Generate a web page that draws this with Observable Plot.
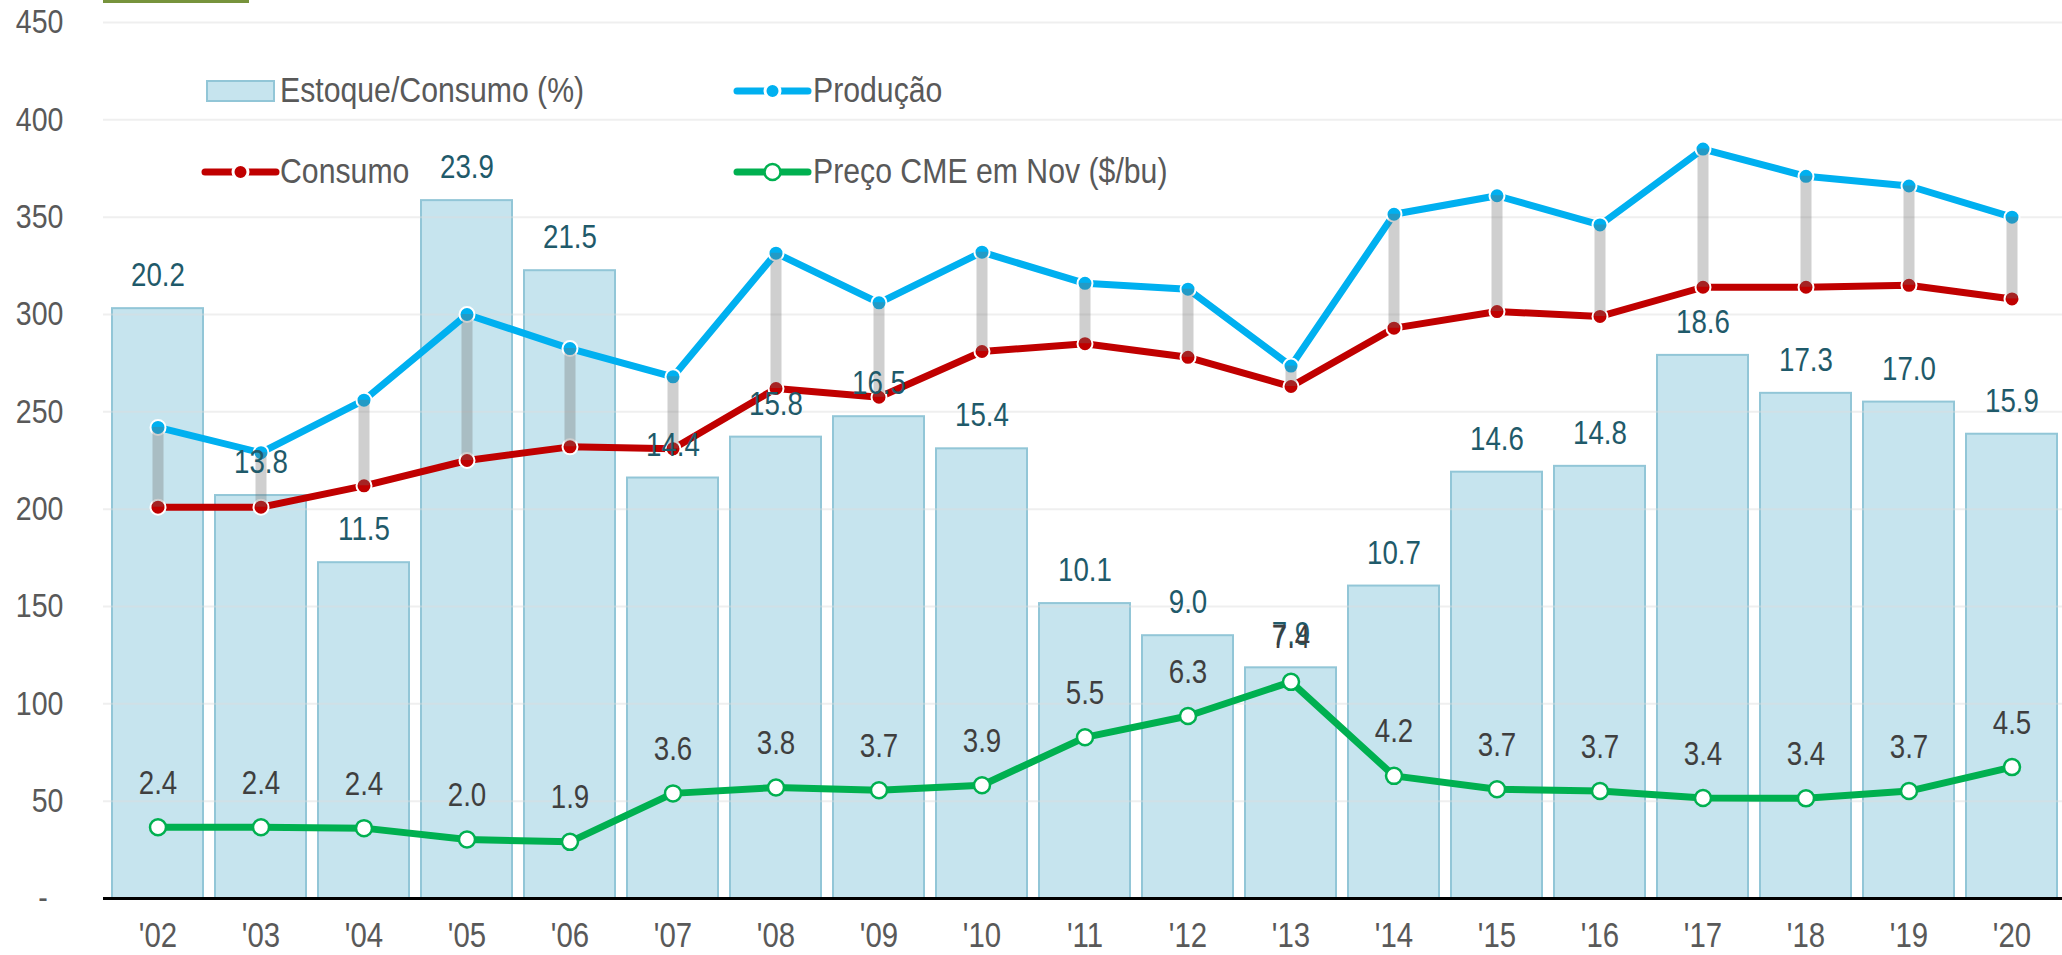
<!DOCTYPE html>
<html><head><meta charset="utf-8">
<script src="https://cdn.jsdelivr.net/npm/d3@7"></script>
<script src="https://cdn.jsdelivr.net/npm/@observablehq/plot@0.6"></script>
<style>
html,body{margin:0;padding:0;background:#fff;overflow:hidden}
#chart svg{display:block;overflow:hidden}
</style></head><body><div id="chart"></div>
<script>
// ---- data ----
const years = ["'02","'03","'04","'05","'06","'07","'08","'09","'10","'11","'12","'13","'14","'15","'16","'17","'18","'19","'20"];
const producao = [242, 229, 256, 300, 282.5, 268, 331.5, 306, 332, 316, 313, 273.5, 351.5, 361, 346, 385, 371, 366, 350];
const consumo  = [201, 201, 212, 225, 232, 231, 262, 257.5, 281, 285, 278, 263, 293, 301.5, 299, 314, 314, 315, 308];
const estoqueConsumo = [20.2, 13.8, 11.5, 23.9, 21.5, 14.4, 15.8, 16.5, 15.4, 10.1, 9.0, 7.9, 10.7, 14.6, 14.8, 18.6, 17.3, 17.0, 15.9];
const precoNov = [2.44, 2.44, 2.41, 2.02, 1.94, 3.60, 3.80, 3.71, 3.88, 5.52, 6.25, 7.42, 4.20, 3.74, 3.68, 3.44, 3.43, 3.68, 4.50];
const yTicks = [0, 50, 100, 150, 200, 250, 300, 350, 400, 450];
const legendLabels = ["Estoque/Consumo (%)", "Produção", "Consumo", "Preço CME em Nov ($/bu)"];
// the % ratio and the $/bu price share the left axis at a factor of 15
const secondaryFactor = 15;

const rows = years.map((year, i) => ({
  year, prod: producao[i], cons: consumo[i],
  ratio: estoqueConsumo[i], price: precoNov[i]
}));

const FONT = "'Liberation Sans',Arial,sans-serif";
const SQUEEZE = 0.84; // the reference uses a narrow face
const BLUE = "#00b0f0", RED = "#c00000", GREEN = "#00b050";
const BAR_FILL = "#c6e4ee", BAR_STROKE = "#92c6d7";

const chart = Plot.plot({
  width: 2062,
  height: 955,
  marginLeft: 103,
  marginRight: 0,
  marginTop: 22,
  marginBottom: 57,
  style: {fontFamily: FONT, fontSize: "34px", background: "#fff", color: "#595959"},
  x: {type: "band", domain: years, range: [103, 2066], paddingInner: 0.12, paddingOuter: 0.06, label: null},
  y: {domain: [0, 450], label: null},
  marks: [
    Plot.barY(rows, {x: "year", y: d => d.ratio * secondaryFactor, fill: BAR_FILL, stroke: BAR_STROKE, strokeWidth: 2}),
    Plot.gridY(yTicks.filter(d => d > 0), {stroke: "#dcdcdc", strokeOpacity: 0.45, strokeWidth: 2}),
    Plot.axisY({ticks: yTicks, tickSize: 0, tickPadding: 40, fontSize: 34, fill: "#595959",
      tickFormat: d => d === 0 ? "-\u00a0\u00a0" : String(d)}),
    Plot.axisX({tickSize: 0, tickPadding: 24, fontSize: 35, fill: "#595959"}),
    Plot.ruleY([0], {stroke: "#000", strokeWidth: 3}),
    // Produção & Consumo
    Plot.lineY(rows, {x: "year", y: "prod", stroke: BLUE, strokeWidth: 7}),
    Plot.lineY(rows, {x: "year", y: "cons", stroke: RED, strokeWidth: 7}),
    Plot.dot(rows, {x: "year", y: "prod", r: 7.5, fill: BLUE, stroke: "#fff", strokeWidth: 2}),
    Plot.dot(rows, {x: "year", y: "cons", r: 7.5, fill: RED, stroke: "#fff", strokeWidth: 2}),
    Plot.ruleX(rows, {x: "year", y1: "prod", y2: "cons", stroke: "#6e6e6e", strokeOpacity: 0.33, strokeWidth: 11}),
    // Preço
    Plot.lineY(rows, {x: "year", y: d => d.price * secondaryFactor, stroke: GREEN, strokeWidth: 7}),
    Plot.dot(rows, {x: "year", y: d => d.price * secondaryFactor, r: 8, fill: "#fff", stroke: GREEN, strokeWidth: 2.5}),
    // labels
    Plot.text(rows, {x: "year", y: d => d.ratio * secondaryFactor, text: d => d.ratio.toFixed(1), dy: -33,
      fontSize: 33, fill: "#1f5a6a"}),
    Plot.text(rows, {x: "year", y: d => d.price * secondaryFactor, text: d => d.price.toFixed(1), dy: -44,
      fontSize: 33, fill: "#3f3f3f"})
  ]
});
document.getElementById("chart").appendChild(chart);

// ---- decoration + legend ----
const svg = d3.select(chart);
svg.append("rect").attr("x", 103).attr("y", 0).attr("width", 146).attr("height", 3).attr("fill", "#77933c");

const lg = svg.append("g").attr("font-family", FONT).attr("font-size", 36).attr("fill", "#595959")
  .attr("text-anchor", "start");
lg.append("rect").attr("x", 207).attr("y", 81).attr("width", 67).attr("height", 20)
  .attr("fill", BAR_FILL).attr("stroke", BAR_STROKE).attr("stroke-width", 2);
lg.append("text").attr("x", 280).attr("y", 102).text(legendLabels[0]);
function lineKey(x1, x2, cy, color, open) {
  lg.append("line").attr("x1", x1).attr("x2", x2).attr("y1", cy).attr("y2", cy)
    .attr("stroke", color).attr("stroke-width", 7).attr("stroke-linecap", "round");
  if (open) {
    lg.append("circle").attr("cx", (x1 + x2) / 2).attr("cy", cy).attr("r", 8)
      .attr("fill", "#fff").attr("stroke", color).attr("stroke-width", 2.5);
  } else {
    lg.append("circle").attr("cx", (x1 + x2) / 2).attr("cy", cy).attr("r", 7.5)
      .attr("fill", color).attr("stroke", "#fff").attr("stroke-width", 3);
  }
}
lineKey(737, 808, 91, BLUE, false);
lg.append("text").attr("x", 813).attr("y", 102).text(legendLabels[1]);
lineKey(205, 276, 172, RED, false);
lg.append("text").attr("x", 280).attr("y", 183).text(legendLabels[2]);
lineKey(737, 808, 172, GREEN, true);
lg.append("text").attr("x", 813).attr("y", 183).text(legendLabels[3]);

// narrow every text horizontally around its own anchor (keep em-based shifts)
const isNum = v => v != null && v !== "" && !isNaN(+v);
svg.selectAll("text").each(function() {
  const t = d3.select(this);
  const xa = t.attr("x"), ya = t.attr("y");
  const x = isNum(xa) ? +xa : 0, y = isNum(ya) ? +ya : 0;
  if (isNum(xa)) t.attr("x", null);
  if (isNum(ya)) t.attr("y", null);
  const tr = t.attr("transform") || "";
  t.attr("transform", `${tr} translate(${x},${y}) scale(${SQUEEZE},1)`);
});
</script>
</body></html>
